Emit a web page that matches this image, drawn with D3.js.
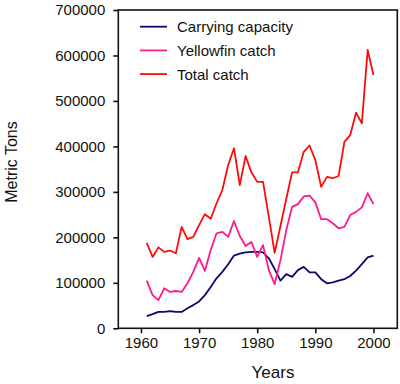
<!DOCTYPE html>
<html>
<head>
<meta charset="utf-8">
<script src="https://cdn.jsdelivr.net/npm/d3@7"></script>
<style>
  body { margin: 0; background: #fff; }
  svg { display: block; font-family: "Liberation Sans", Arial, sans-serif; }
</style>
</head>
<body>
<div id="chart"></div>
<script>
var years = d3.range(1961, 2001);

var carryingCapacity = [27000, 31000, 36000, 36000, 38000, 36000, 36000, 44000, 51000, 59000,
                        73000, 91000, 110000, 124000, 141000, 160000, 164000, 167000, 168000, 168000,
                        167000, 154000, 130000, 105000, 119000, 113000, 128000, 135000, 123000, 123000,
                        108000, 99000, 101000, 105000, 108000, 115000, 127000, 141000, 156000, 160000];

var yellowfinCatch = [105000, 73000, 62000, 88000, 80000, 82000, 80000, 99000, 124000, 155000,
                      126000, 172000, 209000, 212000, 201000, 236000, 203000, 181000, 190000, 157000,
                      183000, 128000, 97000, 150000, 216000, 267000, 273000, 290000, 292000, 277000,
                      240000, 240000, 231000, 220000, 223000, 249000, 256000, 266000, 297000, 273000];

var totalCatch = [188000, 157000, 178000, 168000, 171000, 165000, 223000, 196000, 201000, 227000,
                  251000, 241000, 275000, 304000, 359000, 396000, 315000, 379000, 343000, 322000,
                  322000, 245000, 166000, 225000, 285000, 343000, 343000, 388000, 402000, 370000,
                  311000, 333000, 330000, 335000, 410000, 425000, 474000, 451000, 612000, 557000];

var seriesNames = ["Carrying capacity", "Yellowfin catch", "Total catch"];
var seriesColors = ["#0a0a6e", "#ff1a8c", "#ff0a0a"];
var xTicks = [1960, 1970, 1980, 1990, 2000];
var yTicks = [0, 100000, 200000, 300000, 400000, 500000, 600000, 700000];

function plotChart(containerId) {
    var WIDTH = 400;
    var HEIGHT = 384;
    var MARGINS = {top: 10, right: 2.7, bottom: 55.7, left: 118.3};

    var svg = d3.select('#' + containerId).append("svg")
        .attr("width", WIDTH)
        .attr("height", HEIGHT);

    var xScale = d3.scaleLinear().range([MARGINS.left, WIDTH - MARGINS.right])
                                 .domain([1956.1, 2004.1]);
    var yScale = d3.scaleLinear().range([HEIGHT - MARGINS.bottom, MARGINS.top])
                                 .domain([0, 700000]);

    var xAxis = d3.axisBottom(xScale).tickValues(xTicks).tickFormat(d3.format("d"))
                  .tickSize(5).tickPadding(4);
    var yAxis = d3.axisLeft(yScale).tickValues(yTicks).tickFormat(d3.format("d"))
                  .tickSize(5).tickPadding(8);

    var gx = svg.append("g")
        .attr("transform", "translate(0," + (HEIGHT - MARGINS.bottom) + ")")
        .style("font-size", "15px")
        .call(xAxis);
    var gy = svg.append("g")
        .attr("transform", "translate(" + MARGINS.left + ",0)")
        .style("font-size", "15px")
        .call(yAxis);

    [gx, gy].forEach(function(g) {
        g.select(".domain").remove();
        g.selectAll(".tick line").attr("stroke", "#111").attr("stroke-width", 1.6);
        g.selectAll(".tick text").attr("fill", "#111").style("font-family", "Liberation Sans, Arial, sans-serif");
    });

    // frame
    svg.append("rect")
        .attr("x", MARGINS.left)
        .attr("y", MARGINS.top)
        .attr("width", WIDTH - MARGINS.right - MARGINS.left)
        .attr("height", HEIGHT - MARGINS.bottom - MARGINS.top)
        .attr("fill", "none")
        .attr("stroke", "#111")
        .attr("stroke-width", 1.6);

    var line = d3.line()
                 .x(function(d) { return xScale(d.x); })
                 .y(function(d) { return yScale(d.y); });

    var allSeries = [carryingCapacity, yellowfinCatch, totalCatch];
    allSeries.forEach(function(vals, i) {
        var data = years.map(function(yr, j) { return {x: yr, y: vals[j]}; });
        svg.append("path")
            .datum(data)
            .attr("d", line)
            .style("fill", "none")
            .style("stroke", seriesColors[i])
            .style("stroke-width", "1.8")
            .style("stroke-linejoin", "round");
    });

    // legend
    var legend = svg.append("g");
    seriesNames.forEach(function(name, i) {
        var ly = 26.7 + i * 23.7;
        legend.append("line")
            .attr("x1", 140).attr("x2", 167)
            .attr("y1", ly).attr("y2", ly)
            .style("stroke", seriesColors[i])
            .style("stroke-width", "1.8");
        legend.append("text")
            .attr("x", 177)
            .attr("y", ly + 5.5)
            .style("font-size", "15px")
            .attr("fill", "#111")
            .text(name);
    });

    svg.append("text")
        .attr("x", 273)
        .attr("y", 378)
        .attr("text-anchor", "middle")
        .style("font-size", "17px")
        .attr("fill", "#111")
        .text("Years");

    svg.append("text")
        .attr("transform", "translate(17,162) rotate(-90)")
        .attr("text-anchor", "middle")
        .style("font-size", "16px")
        .attr("fill", "#111")
        .text("Metric Tons");
}

plotChart("chart");
</script>
</body>
</html>
